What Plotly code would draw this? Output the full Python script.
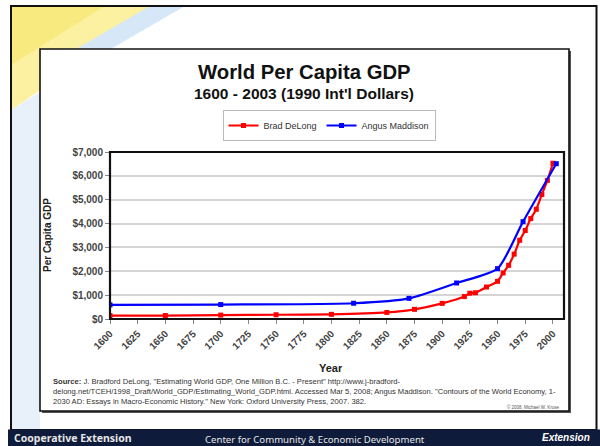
import plotly.graph_objects as go

# ---- data ----
delong_years = [1600, 1650, 1700, 1750, 1800, 1850, 1875, 1900, 1920, 1925, 1930, 1940,
                1950, 1955, 1960, 1965, 1970, 1975, 1980, 1985, 1990, 1995, 2000]
delong_values = [141, 145, 164, 178, 195, 275, 405, 655, 940, 1080, 1100, 1340,
                 1580, 1930, 2250, 2720, 3300, 3710, 4210, 4600, 5220, 5810, 6530]
maddison_years = [1600, 1700, 1820, 1870, 1913, 1950, 1973, 2003]
maddison_values = [590, 605, 660, 865, 1510, 2110, 4080, 6510]

x_ticks = list(range(1600, 2001, 25))
y_ticks = [0, 1000, 2000, 3000, 4000, 5000, 6000, 7000]

W, H = 600, 446
def px(x):
    return x / W
def py(y):
    return 1 - y / H

FONT = "Liberation Sans, Arial, sans-serif"

fig = go.Figure()
fig.add_trace(go.Scatter(
    x=delong_years, y=delong_values, name="Brad DeLong", mode="lines+markers",
    line=dict(color="#ff0000", width=2.2, shape="spline", smoothing=0.6),
    marker=dict(symbol="square", size=5, color="#ff0000")))
fig.add_trace(go.Scatter(
    x=maddison_years, y=maddison_values, name="Angus Maddison", mode="lines+markers",
    line=dict(color="#0000ff", width=2.2, shape="spline", smoothing=0.6),
    marker=dict(symbol="square", size=5, color="#0000ff")))

shapes = []
# slide background decorations
shapes.append(dict(type="path", xref="paper", yref="paper", layer="below",
                   path=f"M {px(11)},{py(6)} L {px(165)},{py(6)} L {px(11)},{py(110)} Z",
                   fillcolor="#fbf1a0", line=dict(width=0)))
shapes.append(dict(type="path", xref="paper", yref="paper", layer="below",
                   path=f"M {px(11)},{py(6)} L {px(105)},{py(6)} L {px(11)},{py(65)} Z",
                   fillcolor="#f9ea80", line=dict(width=0)))
shapes.append(dict(type="path", xref="paper", yref="paper", layer="below",
                   path=f"M {px(150)},{py(6)} L {px(185)},{py(6)} L {px(40)},{py(90)} L {px(40)},{py(70)} Z",
                   fillcolor="#d6e7f7", line=dict(width=0)))
shapes.append(dict(type="path", xref="paper", yref="paper", layer="below",
                   path=f"M {px(11)},{py(110)} L {px(40)},{py(92)} L {px(40)},{py(430)} L {px(11)},{py(430)} Z",
                   fillcolor="#e8f0f9", line=dict(width=0)))
# outer slide border
shapes.append(dict(type="rect", xref="paper", yref="paper", layer="below",
                   x0=px(11), x1=px(596.5), y0=py(430), y1=py(6),
                   line=dict(color="#111111", width=2)))
# footer bar
shapes.append(dict(type="rect", xref="paper", yref="paper", layer="below",
                   x0=px(8), x1=px(600), y0=py(446), y1=py(429.5),
                   fillcolor="#0f1b3b", line=dict(width=0)))
# chart frame (shadow + box)
shapes.append(dict(type="rect", xref="paper", yref="paper", layer="below",
                   x0=px(42), x1=px(571), y0=py(413), y1=py(51),
                   fillcolor="#555555", line=dict(width=0)))
shapes.append(dict(type="rect", xref="paper", yref="paper", layer="below",
                   x0=px(40), x1=px(569), y0=py(411), y1=py(49),
                   fillcolor="#ffffff", line=dict(color="#111111", width=1.6)))
# plot area border
shapes.append(dict(type="rect", xref="x domain", yref="y domain", layer="above",
                   x0=0, x1=1, y0=0, y1=1, line=dict(color="#111111", width=2.2)))

def ann(text, x, y, size, color="#111111", xanchor="center", yanchor="middle",
        family=FONT, **kw):
    return dict(text=text, x=px(x), y=py(y), xref="paper", yref="paper",
                xanchor=xanchor, yanchor=yanchor, showarrow=False,
                font=dict(family=family, size=size, color=color), **kw)

annotations = [
    ann("<b>World Per Capita GDP</b>", 304, 72, 20.3),
    ann("<b>1600 - 2003 (1990 Int'l Dollars)</b>", 304, 93, 15.5),
    ann("<b>Year</b>", 331, 368, 11, "#222222"),
    ann("<b>Per Capita GDP</b>", 48, 235, 10, "#222222", textangle=-90),
    ann("<b>Source:</b> J. Bradford DeLong, \"Estimating World GDP, One Million B.C. - Present\" http://www.j-bradford-<br>"
        "delong.net/TCEH/1998_Draft/World_GDP/Estimating_World_GDP.html. Accessed Mar 5, 2008; Angus Maddison. \"Contours of the World Economy, 1-<br>"
        "2030 AD: Essays in Macro-Economic History.\" New York: Oxford University Press, 2007. 382.",
        51, 375, 7.6, "#333333", xanchor="left", yanchor="top", align="left"),
    ann("© 2008, Michael W. Kruse", 562, 407, 4.5, "#555555", xanchor="right"),
    ann("<b>Cooperative Extension</b>", 12, 438, 10.5, "#e6e6e6", xanchor="left",
        family="Noto Sans, sans-serif"),
    ann("Center for Community &amp; Economic Development", 315, 439, 9.6, "#e6e6e6",
        family="Noto Sans, sans-serif"),
    ann("<b><i>Extension</i></b>", 592, 437, 10, "#ffffff", xanchor="right"),
]

fig.update_layout(
    width=W, height=H,
    margin=dict(l=0, r=0, t=0, b=0, pad=0, autoexpand=False),
    paper_bgcolor="#ffffff", plot_bgcolor="#ffffff",
    font=dict(family=FONT, color="#333333"),
    shapes=shapes, annotations=annotations,
    showlegend=True,
    legend=dict(orientation="h", x=px(329), xanchor="center", y=py(110), yanchor="top",
                bgcolor="#ffffff", bordercolor="#bbbbbb", borderwidth=1,
                font=dict(family=FONT, size=9, color="#333333"),
                itemwidth=30, tracegroupgap=0),
    xaxis=dict(domain=[px(110), px(564)], range=[1600, 2010], automargin=False,
               tickvals=x_ticks, tickangle=-45, showgrid=False, zeroline=False,
               ticks="outside", ticklen=4, tickcolor="#888888", showline=False,
               tickfont=dict(family=FONT, size=10, color="#444444", weight="bold")),
    yaxis=dict(domain=[py(319), py(152)], range=[0, 7000], automargin=False,
               tickvals=y_ticks, tickformat="$,",
               showgrid=True, gridcolor="#d4d4d4", gridwidth=1.5, zeroline=False,
               ticks="outside", ticklen=4, tickcolor="#888888", showline=False,
               tickfont=dict(family=FONT, size=10, color="#444444", weight="bold")),
)

fig.write_html("out.html", config={"displayModeBar": False},
               post_script="document.body.style.margin='0';document.body.style.overflow='hidden';")
